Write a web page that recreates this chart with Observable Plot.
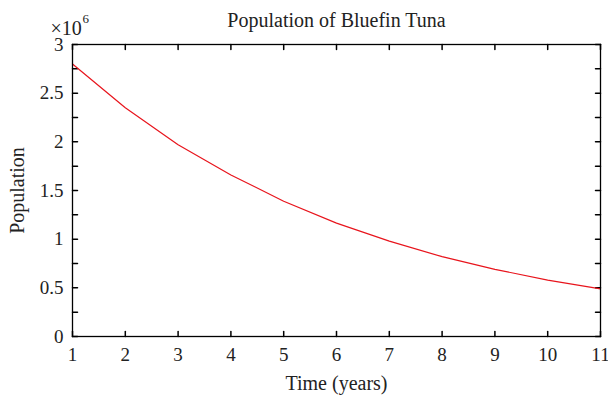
<!DOCTYPE html>
<html><head><meta charset="utf-8">
<script src="https://cdn.jsdelivr.net/npm/d3@7"></script>
<script src="https://cdn.jsdelivr.net/npm/@observablehq/plot@0.6"></script>
<style>body{margin:0;background:#fff}#chart svg{display:block}</style>
</head><body><div id="chart"></div>
<script>
const years = [1, 2, 3, 4, 5, 6, 7, 8, 9, 10, 11];
const population = [2.80e6, 2.35e6, 1.97e6, 1.66e6, 1.39e6, 1.165e6, 0.98e6, 0.82e6, 0.69e6, 0.58e6, 0.49e6];
const xTicks = [1, 2, 3, 4, 5, 6, 7, 8, 9, 10, 11];
const yTickLabels = [0, 0.5e6, 1e6, 1.5e6, 2e6, 2.5e6, 3e6];
const yTickMarks = [0, 0.25e6, 0.5e6, 0.75e6, 1e6, 1.25e6, 1.5e6, 1.75e6, 2e6, 2.25e6, 2.5e6, 2.75e6, 3e6];
const title = "Population of Bluefin Tuna";
const xLabel = "Time (years)";
const yLabel = "Population";
const exponentBase = "×10";
const exponent = "6";

const data = years.map((t, i) => ({t, p: population[i]}));
const font = "Liberation Serif";
const ink = "#222";
const tickShape = {draw(context, l) { context.moveTo(0, 0); context.lineTo(0, -l); }};

const chart = Plot.plot({
  width: 608, height: 398,
  marginLeft: 72, marginRight: 8, marginTop: 44, marginBottom: 62,
  style: {fontFamily: font, fontSize: "19px", color: ink, background: "#fff"},
  x: {domain: [1, 11]},
  y: {domain: [0, 3e6]},
  marks: [
    Plot.axisX({ticks: xTicks, tickSize: 0, tickPadding: 11, tickFormat: d => String(d), label: null, fontSize: 19}),
    Plot.axisY({ticks: yTickLabels, tickSize: 0, tickPadding: 9, tickFormat: d => String(d / 1e6), label: null, fontSize: 19}),
    Plot.vector(yTickMarks, {x: () => 1, y: d => d, length: 5, rotate: 90, anchor: "start", shape: tickShape, stroke: "black"}),
    Plot.vector(yTickMarks, {x: () => 11, y: d => d, length: 5, rotate: -90, anchor: "start", shape: tickShape, stroke: "black"}),
    Plot.vector(xTicks, {x: d => d, y: () => 0, length: 5, rotate: 0, anchor: "start", shape: tickShape, stroke: "black"}),
    Plot.vector(xTicks, {x: d => d, y: () => 3e6, length: 5, rotate: 180, anchor: "start", shape: tickShape, stroke: "black"}),
    Plot.line(data, {x: "t", y: "p", stroke: "#e8141c", strokeWidth: 1.2}),
    Plot.frame({stroke: "black", strokeWidth: 1.3}),
    Plot.text([title], {frameAnchor: "top", dy: -24, lineAnchor: "middle", fontSize: 20, fill: ink}),
    Plot.text([xLabel], {frameAnchor: "bottom", dy: 47, lineAnchor: "middle", fontSize: 20, fill: ink}),
    Plot.text([yLabel], {frameAnchor: "left", dx: -55, lineAnchor: "middle", textAnchor: "middle", rotate: -90, fontSize: 20, fill: ink}),
    Plot.text([exponentBase], {frameAnchor: "top-left", dx: -22, dy: -16, lineAnchor: "middle", textAnchor: "start", fontSize: 20, fill: ink}),
    Plot.text([exponent], {frameAnchor: "top-left", dx: 10, dy: -26, lineAnchor: "middle", textAnchor: "start", fontSize: 13, fill: ink})
  ]
});
document.getElementById("chart").appendChild(chart);
</script>
</body></html>
